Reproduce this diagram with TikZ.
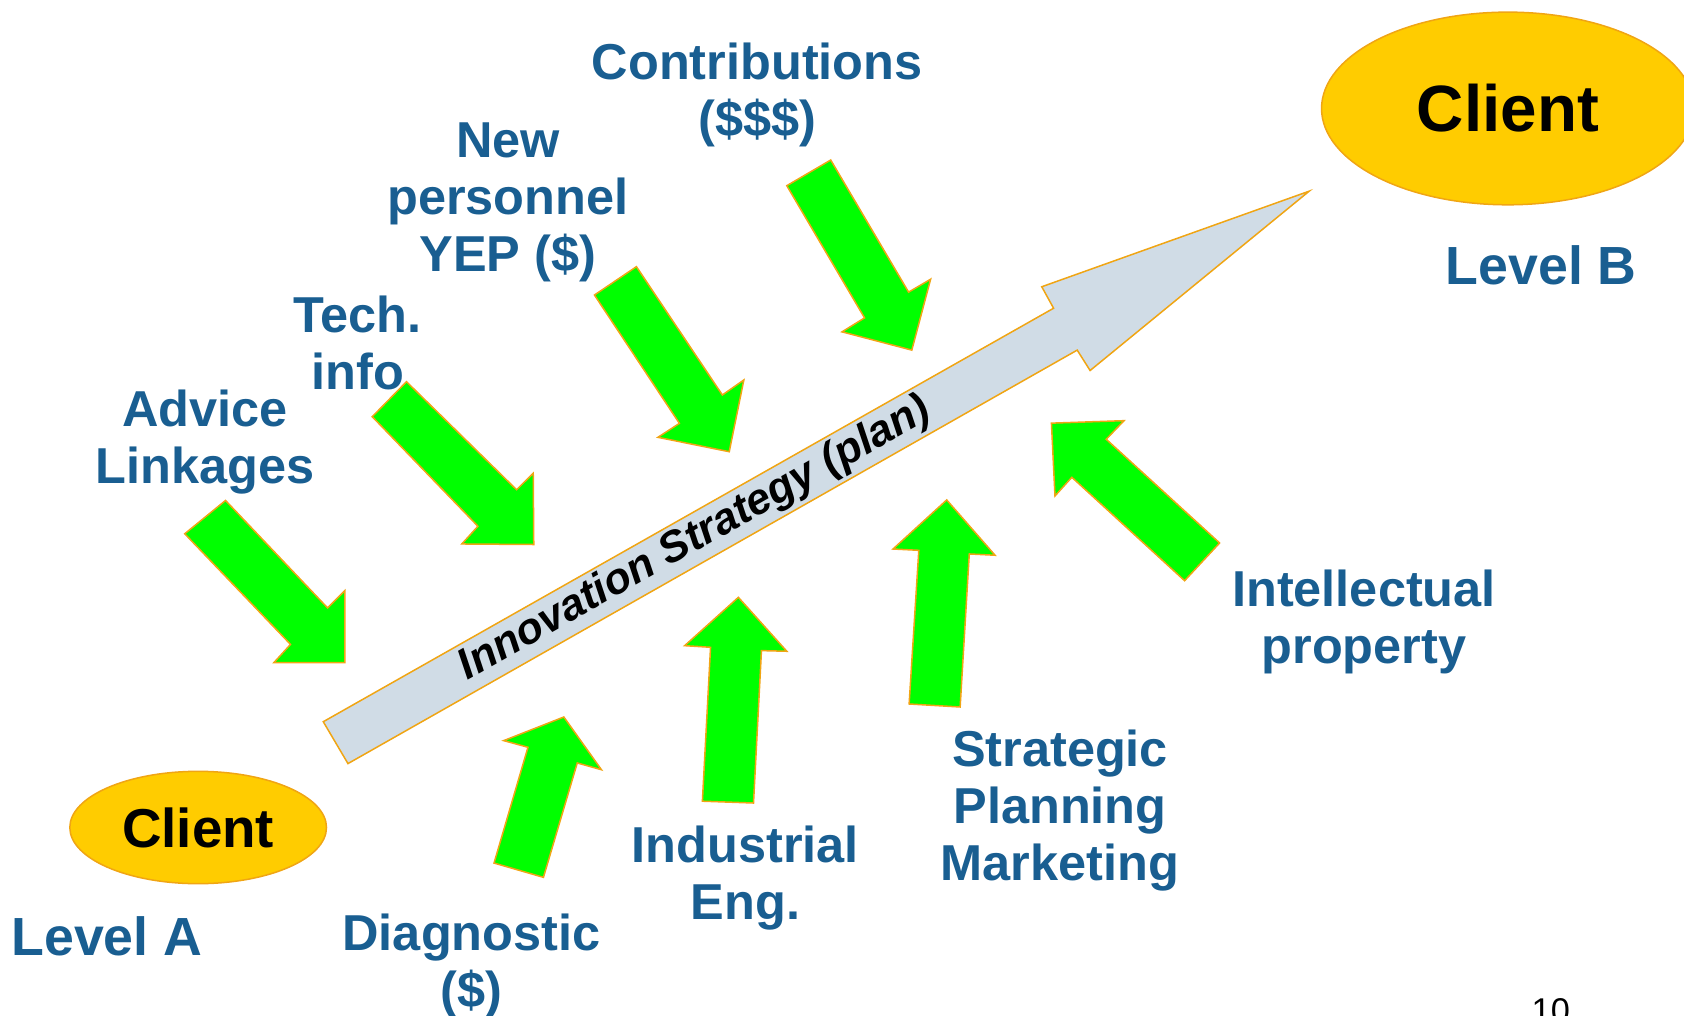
\documentclass[tikz,border=0pt]{standalone}
\usepackage{fontspec}
\setmainfont{Liberation Sans}
\usetikzlibrary{shapes.geometric}
\definecolor{lblue}{RGB}{25,94,145}
\definecolor{agreen}{RGB}{0,255,0}
\definecolor{aorange}{RGB}{240,165,20}
\definecolor{agray}{RGB}{208,220,230}
\definecolor{cyellow}{RGB}{255,204,0}
\begin{document}
\begin{tikzpicture}[x=0.5pt,y=-0.5pt,
  greenarrow/.style={fill=agreen,draw=aorange,line width=0.7pt,line join=miter},
  mainarrow/.style={fill=agray,draw=aorange,line width=0.7pt,line join=miter},
  client/.style={ellipse,fill=cyellow,draw=aorange,line width=0.7pt,inner sep=0pt,font=\bfseries},
  lbl/.style={text=lblue,font=\fontsize{23.5}{26.5}\selectfont\bfseries,align=center,anchor=base,inner sep=0pt},
  lvl/.style={text=lblue,font=\fontsize{25}{26.5}\selectfont\bfseries,anchor=base,inner sep=0pt},
]
\useasboundingbox (0,0) rectangle (1568,946);

% main arrow
\draw[mainarrow] (301,672) -- (981,287) -- (970,267) -- (1219,178) -- (1015,345) -- (1003,326) -- (324,711) -- cycle;
\node[rotate=29.5,inner sep=0pt,font=\fontsize{20.2}{20}\selectfont\bfseries\itshape] (strat) at (647,502) {Innovation Strategy (plan)};

% green arrows
\draw[greenarrow] (172,497) -- (210,466) -- (305,566) -- (321,550) -- (321,617) -- (255,617) -- (270.5,600) -- cycle;
\draw[greenarrow] (346.6,388) -- (378.5,355.4) -- (481,456) -- (496.5,440.7) -- (497,507) -- (430,506.5) -- (445,490) -- cycle;
\draw[greenarrow] (553.5,274.7) -- (592.6,248.3) -- (672.6,367.8) -- (692.6,353.8) -- (679,420.6) -- (612.6,407.2) -- (632.6,394.2) -- cycle;
\draw[greenarrow] (732.6,172.9) -- (773.5,149) -- (846,272) -- (866.5,260) -- (849,326) -- (784,309) -- (805,296) -- cycle;
\draw[greenarrow] (460,803.6) -- (491.6,695.8) -- (469,689.6) -- (525,667.6) -- (560,716.7) -- (537.5,710.4) -- (506,816.9) -- cycle;
\draw[greenarrow] (654,746) -- (661.6,602.7) -- (637.5,601.2) -- (687.5,556.2) -- (732.6,606.4) -- (709,605.8) -- (701.6,747.7) -- cycle;
\draw[greenarrow] (846.5,655.5) -- (855.5,512.4) -- (831.5,511.2) -- (881.5,465.5) -- (926.5,517) -- (902.5,515.8) -- (894,658.3) -- cycle;
\draw[greenarrow] (1103,540.7) -- (998,444.4) -- (982.3,461.8) -- (979,394) -- (1046.6,391.7) -- (1030,409) -- (1135.6,505.6) -- cycle;

% clients
\node[client,minimum width=173.5pt,minimum height=89.7pt,font=\fontsize{30.5}{30}\selectfont\bfseries] (clientB) at (1404,101) {Client};
\node[client,minimum width=119.5pt,minimum height=52.3pt,font=\fontsize{25.5}{26}\selectfont\bfseries] (clientA) at (184.5,770.5) {Client};

% labels (anchor = baseline of last line)
\node[lbl] (contrib) at (705,127) {Contributions\\(\$\$\$)};
\node[lbl] (newpers) at (473,253) {New\\personnel\\YEP (\$)};
\node[lbl] (tech) at (333,363) {Tech.\\info};
\node[lbl] (advice) at (191,450) {Advice\\Linkages};
\node[lvl] (levelB) at (1435,265) {Level B};
\node[lbl] (intel) at (1270,618) {Intellectual\\property};
\node[lbl] (strategic) at (987,820) {Strategic\\Planning\\Marketing};
\node[lbl] (indus) at (694,856) {Industrial\\Eng.};
\node[lbl] (diag) at (439,938) {Diagnostic\\(\$)};
\node[lvl] (levelA) at (99.5,890) {Level A};
\node[anchor=base,inner sep=0pt,font=\fontsize{16}{16}\selectfont] (pagenum) at (1444,952) {10};
\end{tikzpicture}
\end{document}
